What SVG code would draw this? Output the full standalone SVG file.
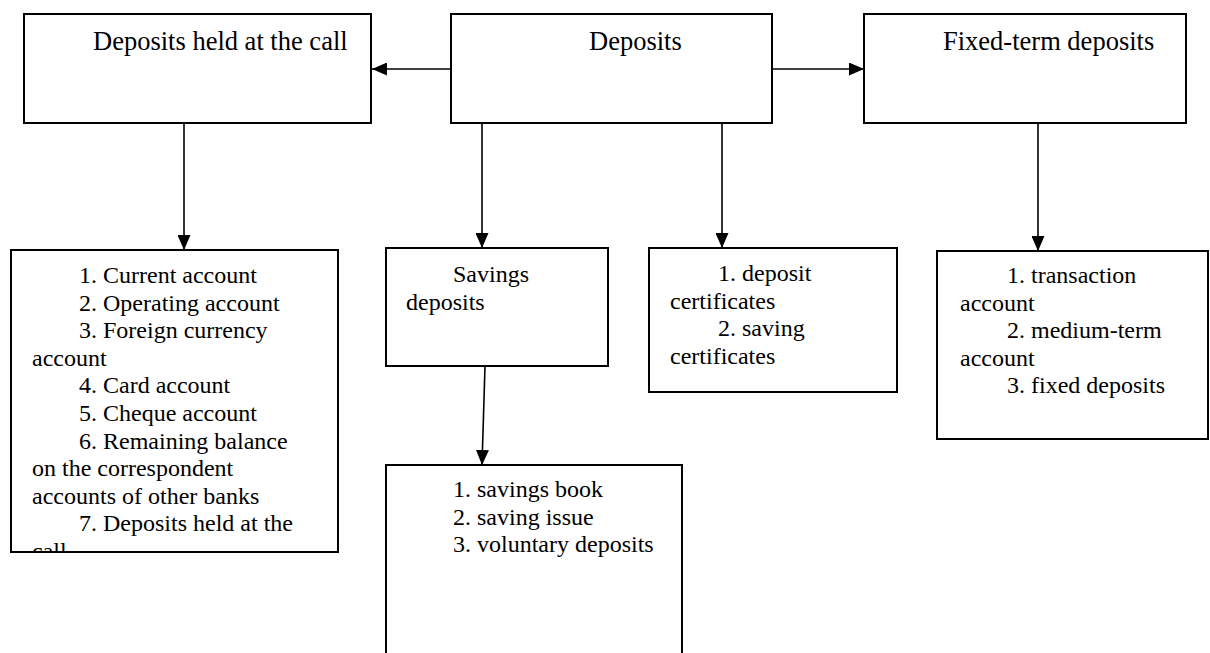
<svg xmlns="http://www.w3.org/2000/svg" width="1210" height="653" viewBox="0 0 1210 653">
<style>
.box{fill:#fff;stroke:#000;stroke-width:2}
.hd{font-family:"Liberation Serif","Times New Roman",serif;font-size:26.5px;fill:#000}
.tx{font-family:"Liberation Serif","Times New Roman",serif;font-size:24px;fill:#000}
.ln{stroke:#000;stroke-width:1.6;fill:none;marker-end:url(#ah)}
</style>
<defs>
<marker id="ah" markerUnits="userSpaceOnUse" markerWidth="15" markerHeight="13" refX="15" refY="6.5" orient="auto">
<path d="M0,0 L15,6.5 L0,13 z" fill="#000"/>
</marker>
<clipPath id="c4"><rect x="12" y="251" width="325" height="300"/></clipPath>
</defs>
<rect width="1210" height="653" fill="#fff"/>
<g id="connectors">
<line class="ln" x1="451" y1="69" x2="372" y2="69"/>
<line class="ln" x1="772" y1="69" x2="864" y2="69"/>
<line class="ln" x1="184" y1="123" x2="184" y2="250"/>
<line class="ln" x1="482" y1="123" x2="482" y2="248"/>
<line class="ln" x1="722" y1="123" x2="722" y2="248"/>
<line class="ln" x1="1038" y1="123" x2="1038" y2="251"/>
<line class="ln" x1="485" y1="366" x2="482" y2="465"/>
</g>
<g id="call">
<rect class="box" x="24" y="14" width="347" height="109"/>
<text class="hd" x="93" y="50">Deposits held at the call</text>
</g>
<g id="deposits">
<rect class="box" x="451" y="14" width="321" height="109"/>
<text class="hd" x="589" y="50">Deposits</text>
</g>
<g id="fixed">
<rect class="box" x="864" y="14" width="322" height="109"/>
<text class="hd" x="943" y="50">Fixed-term deposits</text>
</g>
<g id="call-list">
<rect class="box" x="11" y="250" width="327" height="302"/>
<g clip-path="url(#c4)" class="tx">
<text x="79" y="283">1. Current account</text>
<text x="79" y="310.6">2. Operating account</text>
<text x="79" y="338.2">3. Foreign currency</text>
<text x="32" y="365.8">account</text>
<text x="79" y="393.4">4. Card account</text>
<text x="79" y="421">5. Cheque account</text>
<text x="79" y="448.6">6. Remaining balance</text>
<text x="32" y="476.2">on the correspondent</text>
<text x="32" y="503.8">accounts of other banks</text>
<text x="79" y="531.4">7. Deposits held at the</text>
<text x="32" y="559">call</text>
</g>
</g>
<g id="savings">
<rect class="box" x="386" y="248" width="222" height="118"/>
<text class="tx" x="453" y="282">Savings</text>
<text class="tx" x="406" y="310">deposits</text>
</g>
<g id="savings-list">
<rect class="box" x="386" y="465" width="296" height="200"/>
<text class="tx" x="453" y="497">1. savings book</text>
<text class="tx" x="453" y="524.6">2. saving issue</text>
<text class="tx" x="453" y="552.2">3. voluntary deposits</text>
</g>
<g id="certificates">
<rect class="box" x="649" y="248" width="248" height="144"/>
<text class="tx" x="718" y="281">1. deposit</text>
<text class="tx" x="670" y="308.6">certificates</text>
<text class="tx" x="718" y="336.2">2. saving</text>
<text class="tx" x="670" y="363.8">certificates</text>
</g>
<g id="fixed-list">
<rect class="box" x="937" y="251" width="271" height="188"/>
<text class="tx" x="1007" y="283">1. transaction</text>
<text class="tx" x="960" y="310.6">account</text>
<text class="tx" x="1007" y="338.2">2. medium-term</text>
<text class="tx" x="960" y="365.8">account</text>
<text class="tx" x="1007" y="393.4">3. fixed deposits</text>
</g>
</svg>
